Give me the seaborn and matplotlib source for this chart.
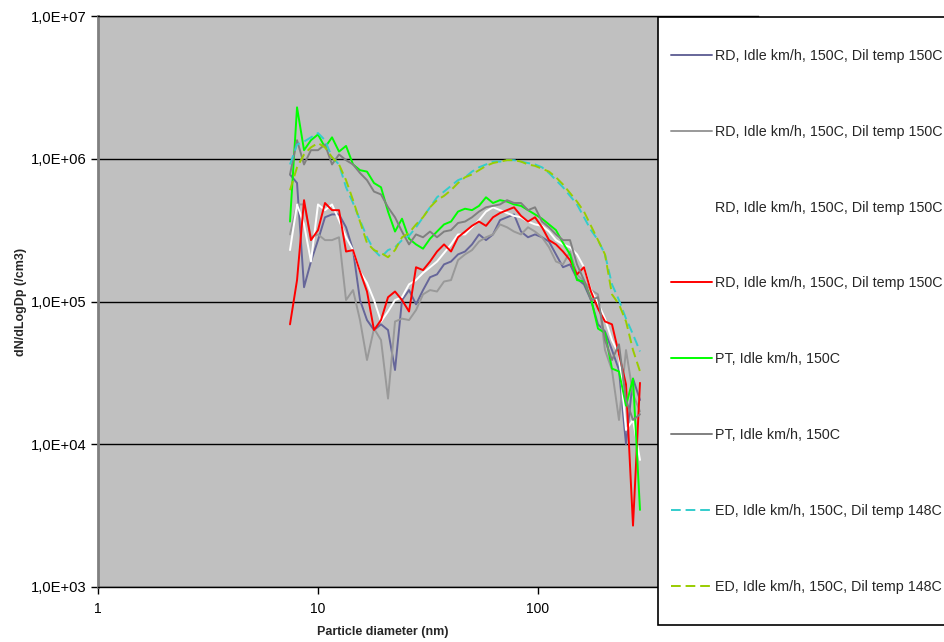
import numpy as np
import matplotlib
matplotlib.use("Agg")
import matplotlib.pyplot as plt
import seaborn as sns
from matplotlib.patches import Rectangle
from matplotlib.ticker import FixedLocator, FuncFormatter, NullLocator

# particle diameter channels (nm)
diameter_nm = [7.46, 8.03, 8.64, 9.29, 10.0, 10.76, 11.58, 12.46, 13.41, 14.43,
               15.52, 16.70, 17.97, 19.34, 20.81, 22.39, 24.09, 25.93, 27.90, 30.02,
               32.30, 34.75, 37.40, 40.24, 43.30, 46.59, 50.12, 53.93, 58.03, 62.44,
               67.19, 72.30, 77.79, 83.71, 90.07, 96.92, 104.3, 112.2, 120.7, 129.9,
               139.8, 150.4, 161.8, 174.1, 187.4, 201.6, 216.9, 233.4, 251.2, 270.3,
               290.8]

# log10(dN/dLogDp), one list per series
rd1_log = [5.89, 5.83, 5.10, 5.28, 5.43, 5.59, 5.61, 5.61, 5.52, 5.36,
           5.01, 4.87, 4.80, 4.84, 4.80, 4.52, 5.01, 5.08, 4.98, 5.08,
           5.17, 5.19, 5.26, 5.28, 5.33, 5.35, 5.40, 5.47, 5.43, 5.47,
           5.57, 5.59, 5.61, 5.49, 5.45, 5.47, 5.45, 5.42, 5.33, 5.24,
           5.26, 5.16, 5.12, 5.01, 4.84, 4.79, 4.66, 4.52, 4.00, 4.46,
           4.31]
rd2_log = [5.47, 5.68, 5.68, 5.45, 5.47, 5.43, 5.43, 5.45, 5.01, 5.08,
           4.87, 4.59, 4.81, 4.73, 4.32, 4.86, 4.88, 4.87, 4.94, 5.05,
           5.08, 5.07, 5.14, 5.15, 5.29, 5.33, 5.36, 5.42, 5.45, 5.47,
           5.54, 5.52, 5.49, 5.47, 5.52, 5.49, 5.45, 5.38, 5.28, 5.26,
           5.35, 5.19, 5.14, 5.08, 5.05, 4.66, 4.52, 4.17, 4.66, 4.35,
           4.23]
rd3_log = [5.36, 5.68, 5.54, 5.28, 5.68, 5.64, 5.68, 5.57, 5.45, 5.36,
           5.21, 5.13, 5.01, 4.86, 4.93, 5.01, 5.03, 5.12, 5.15, 5.20,
           5.24, 5.28, 5.34, 5.40, 5.47, 5.47, 5.52, 5.57, 5.63, 5.66,
           5.64, 5.62, 5.60, 5.59, 5.56, 5.54, 5.53, 5.49, 5.43, 5.40,
           5.38, 5.33, 5.24, 5.08, 4.99, 4.88, 4.73, 4.63, 4.10, 4.17,
           3.89]
rd4_log = [4.84, 5.15, 5.71, 5.43, 5.50, 5.69, 5.64, 5.64, 5.35, 5.36,
           5.21, 5.07, 4.80, 4.87, 5.03, 5.07, 5.01, 4.93, 5.24, 5.22,
           5.28, 5.35, 5.40, 5.35, 5.45, 5.49, 5.53, 5.56, 5.53, 5.59,
           5.62, 5.64, 5.66, 5.60, 5.56, 5.59, 5.52, 5.43, 5.40, 5.35,
           5.29, 5.19, 5.24, 5.07, 4.95, 4.86, 4.84, 4.63, 4.42, 3.43,
           4.43]
pt1_log = [5.56, 6.36, 6.06, 6.13, 6.17, 6.08, 6.15, 6.05, 6.09, 5.96,
           5.92, 5.91, 5.83, 5.80, 5.63, 5.49, 5.58, 5.44, 5.40, 5.37,
           5.44, 5.49, 5.54, 5.56, 5.63, 5.65, 5.64, 5.67, 5.73, 5.69,
           5.71, 5.70, 5.68, 5.67, 5.64, 5.61, 5.58, 5.54, 5.50, 5.41,
           5.33, 5.15, 5.14, 5.02, 4.81, 4.78, 4.53, 4.51, 4.27, 4.46,
           3.54]
pt2_log = [5.89, 6.13, 5.96, 6.06, 6.06, 6.10, 5.96, 6.03, 5.99, 5.96,
           5.90, 5.85, 5.77, 5.75, 5.66, 5.59, 5.49, 5.40, 5.47, 5.45,
           5.49, 5.45, 5.49, 5.50, 5.55, 5.56, 5.59, 5.63, 5.66, 5.67,
           5.68, 5.71, 5.69, 5.69, 5.64, 5.66, 5.56, 5.52, 5.47, 5.43,
           5.43, 5.26, 5.15, 5.01, 5.03, 4.73, 4.59, 4.70, 4.31, 4.17,
           4.21]
ed1_log = [5.96, 6.10, 6.12, 6.15, 6.18, 6.13, 6.01, 5.96, 5.80, 5.69,
           5.57, 5.45, 5.36, 5.31, 5.36, 5.38, 5.43, 5.46, 5.52, 5.59,
           5.66, 5.73, 5.77, 5.81, 5.85, 5.87, 5.91, 5.94, 5.96, 5.98,
           5.98, 5.99, 5.99, 5.98, 5.97, 5.96, 5.94, 5.90, 5.85, 5.80,
           5.74, 5.68, 5.59, 5.50, 5.43, 5.33, 5.12, 5.01, 4.88, 4.77,
           4.65]
ed2_log = [5.78, 5.94, 6.03, 6.08, 6.11, 6.08, 6.01, 5.96, 5.85, 5.71,
           5.56, 5.41, 5.36, 5.34, 5.31, 5.36, 5.45, 5.48, 5.54, 5.59,
           5.66, 5.71, 5.74, 5.78, 5.83, 5.87, 5.89, 5.92, 5.95, 5.97,
           5.98, 5.99, 5.99, 5.98, 5.96, 5.95, 5.93, 5.91, 5.87, 5.82,
           5.76, 5.70, 5.63, 5.53, 5.43, 5.33, 5.05, 4.98, 4.86, 4.66,
           4.51]

labels = ["RD, Idle km/h, 150C, Dil temp 150C",
          "RD, Idle km/h, 150C, Dil temp 150C",
          "RD, Idle km/h, 150C, Dil temp 150C",
          "RD, Idle km/h, 150C, Dil temp 150C",
          "PT, Idle km/h, 150C",
          "PT, Idle km/h, 150C",
          "ED, Idle km/h, 150C, Dil temp 148C",
          "ED, Idle km/h, 150C, Dil temp 148C"]
values = [rd1_log, rd2_log, rd3_log, rd4_log, pt1_log, pt2_log, ed1_log, ed2_log]
colors = ["#666699", "#999999", "#ffffff", "#ff0000",
          "#00ff00", "#808080", "#33cccc", "#99cc00"]
dashed = [False, False, False, False, False, False, True, True]

sns.set_style("ticks")
plt.rcParams["font.family"] = ["Liberation Sans", "DejaVu Sans"]

fig = plt.figure(figsize=(9.44, 6.42), dpi=100)
ax = fig.add_axes([98 / 944, 1 - 587 / 642, 660 / 944, 571 / 642])
ax.set_facecolor("#c0c0c0")

dn = np.array(diameter_nm)
for lab, v, c, d in zip(labels, values, colors, dashed):
    ls = (0, (5, 2.5)) if d else "-"
    sns.lineplot(x=dn, y=10 ** np.array(v), ax=ax, color=c, label=lab,
                 linewidth=1.4, linestyle=ls, legend=False)

ax.set_xscale("log")
ax.set_yscale("log")
ax.set_xlim(1, 1000)
ax.set_ylim(1e3, 1e7)

ax.xaxis.set_major_locator(FixedLocator([1, 10, 100]))
ax.xaxis.set_minor_locator(NullLocator())
ax.xaxis.set_major_formatter(FuncFormatter(lambda v, p: f"{v:g}"))
ax.yaxis.set_major_locator(FixedLocator([1e3, 1e4, 1e5, 1e6, 1e7]))
ax.yaxis.set_minor_locator(NullLocator())
ax.yaxis.set_major_formatter(FuncFormatter(lambda v, p: f"{v:.1E}".replace(".", ",")))
ax.tick_params(axis="both", direction="out", length=5, width=1, colors="black")
ax.tick_params(axis="x", labelsize=10, pad=6)
ax.tick_params(axis="y", labelsize=10.6, pad=3)

ax.grid(axis="y", color="black", linewidth=1)
ax.grid(axis="x", visible=False)
for s in ["top", "bottom"]:
    ax.spines[s].set_color("black")
    ax.spines[s].set_linewidth(1)
ax.spines["left"].set_color("#808080")
ax.spines["left"].set_linewidth(2)
ax.spines["right"].set_visible(False)

ax.set_xlabel("Particle diameter (nm)", fontsize=9, fontweight="bold")
ax.set_ylabel("dN/dLogDp (/cm3)", fontsize=9, fontweight="bold")
ax.xaxis.set_label_coords(0.432, -0.068)
ax.yaxis.set_label_coords(-0.108, 0.5)

# legend box, partly cut off at the right edge of the figure
box = Rectangle((658 / 944, 1 - 625 / 642), 0.4, 608 / 642, transform=fig.transFigure,
                facecolor="white", edgecolor="black", linewidth=1.2, zorder=5)
fig.patches.append(box)

handles, hl = ax.get_legend_handles_labels()
leg = fig.legend(handles, hl, loc="upper left", bbox_to_anchor=(671 / 944, 1 - 49 / 642),
                 frameon=False, fontsize=10.3, labelspacing=4.32, handlelength=2.9,
                 handletextpad=0.2, borderpad=0, borderaxespad=0)
leg.set_zorder(6)

fig.savefig("out.png", dpi=100)
